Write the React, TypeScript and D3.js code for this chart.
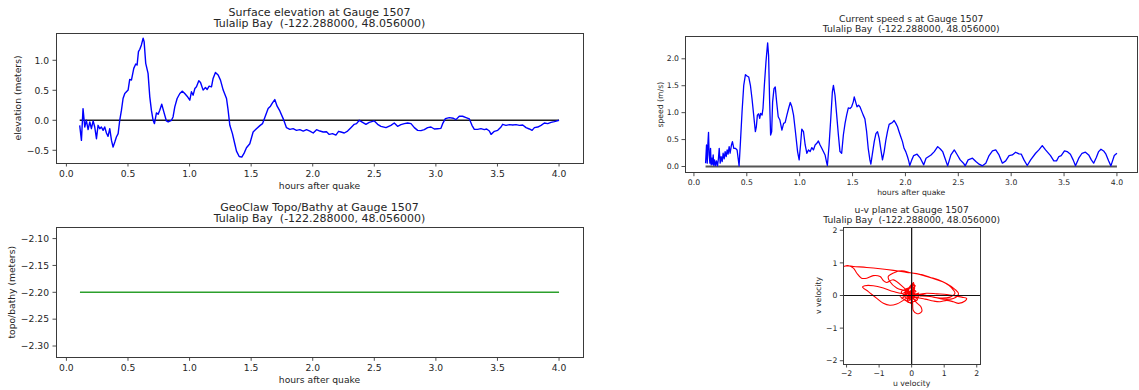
import React from "react";
import * as d3 from "d3";

// ---------- data ----------
const elevTime = [0.108,0.122,0.135,0.149,0.162,0.176,0.19,0.203,0.217,0.23,0.244,0.257,0.271,0.284,0.298,0.311,0.325,0.338,0.352,0.366,0.379,0.393,0.406,0.42,0.433,0.447,0.46,0.474,0.501,0.514,0.528,0.547,0.563,0.574,0.585,0.596,0.609,0.623,0.631,0.644,0.663,0.677,0.69,0.704,0.715,0.731,0.745,0.758,0.774,0.791,0.812,0.826,0.853,0.866,0.88,0.899,0.921,0.942,0.961,0.98,1.002,1.015,1.029,1.043,1.056,1.075,1.089,1.11,1.129,1.143,1.159,1.178,1.191,1.21,1.232,1.251,1.273,1.3,1.313,1.327,1.348,1.367,1.381,1.403,1.424,1.443,1.462,1.489,1.516,1.543,1.571,1.592,1.611,1.638,1.657,1.673,1.692,1.711,1.733,1.76,1.787,1.814,1.841,1.868,1.895,1.923,1.95,1.977,2.004,2.031,2.058,2.085,2.112,2.134,2.161,2.188,2.21,2.229,2.256,2.283,2.31,2.337,2.356,2.378,2.405,2.432,2.459,2.5,2.527,2.554,2.595,2.635,2.662,2.689,2.716,2.744,2.771,2.798,2.825,2.852,2.879,2.906,2.933,2.96,2.987,3.014,3.041,3.055,3.077,3.109,3.142,3.163,3.19,3.217,3.245,3.272,3.293,3.312,3.339,3.366,3.393,3.412,3.434,3.448,3.475,3.502,3.529,3.542,3.569,3.597,3.624,3.651,3.678,3.705,3.732,3.759,3.781,3.8,3.827,3.854,3.881,3.908,3.935,3.962,4.0];
const elevValues = [-0.084,-0.335,0.195,-0.112,0,-0.156,-0.028,-0.14,-0.011,-0.112,-0.307,-0.084,-0.14,-0.112,-0.168,-0.112,-0.212,-0.268,-0.14,-0.335,-0.447,-0.363,-0.279,-0.223,0,0.168,0.363,0.447,0.503,0.681,0.67,0.865,0.938,0.921,1.145,1.184,1.256,1.368,1.312,0.949,0.782,0.391,0.168,0,-0.056,0.123,0.101,0.168,0.268,0.14,-0.011,-0.028,0,0.056,0.223,0.363,0.447,0.486,0.447,0.402,0.335,0.475,0.419,0.53,0.558,0.659,0.631,0.503,0.547,0.514,0.57,0.558,0.698,0.798,0.754,0.67,0.503,0.363,0.168,-0.084,-0.223,-0.391,-0.514,-0.603,-0.614,-0.547,-0.458,-0.391,-0.195,-0.14,-0.089,-0.056,0.045,0.195,0.235,0.29,0.346,0.235,0.156,0.028,-0.123,-0.151,-0.14,-0.168,-0.156,-0.179,-0.156,-0.179,-0.212,-0.156,-0.179,-0.195,-0.19,-0.235,-0.223,-0.246,-0.184,-0.195,-0.212,-0.179,-0.123,-0.067,-0.056,0,-0.034,-0.067,-0.034,-0.011,-0.067,-0.101,-0.123,-0.084,-0.045,-0.101,-0.073,-0.056,-0.045,-0.056,-0.123,-0.168,-0.173,-0.156,-0.123,-0.112,-0.145,-0.14,-0.134,-0.056,0.028,0.045,0.034,0.011,0.067,0.067,0.045,0.022,-0.084,-0.151,-0.151,-0.14,-0.156,-0.145,-0.179,-0.235,-0.184,-0.168,-0.112,-0.067,-0.084,-0.073,-0.078,-0.073,-0.084,-0.078,-0.123,-0.145,-0.168,-0.123,-0.112,-0.084,-0.045,-0.056,-0.034,-0.022,0];

const speedTime = [0.11,0.119,0.126,0.132,0.138,0.144,0.151,0.157,0.163,0.17,0.176,0.182,0.188,0.195,0.204,0.213,0.223,0.232,0.239,0.248,0.257,0.267,0.276,0.286,0.295,0.305,0.314,0.323,0.333,0.342,0.355,0.364,0.377,0.392,0.408,0.418,0.427,0.44,0.455,0.471,0.487,0.502,0.518,0.534,0.549,0.565,0.581,0.59,0.6,0.612,0.622,0.631,0.644,0.653,0.666,0.681,0.697,0.706,0.716,0.725,0.735,0.744,0.757,0.769,0.782,0.797,0.813,0.832,0.848,0.863,0.879,0.895,0.911,0.926,0.942,0.958,0.98,0.995,1.008,1.02,1.036,1.052,1.068,1.083,1.099,1.115,1.13,1.146,1.162,1.177,1.193,1.209,1.224,1.24,1.256,1.262,1.278,1.294,1.309,1.319,1.334,1.35,1.366,1.381,1.397,1.413,1.429,1.444,1.46,1.476,1.491,1.507,1.516,1.529,1.542,1.557,1.57,1.586,1.601,1.617,1.633,1.648,1.664,1.673,1.686,1.705,1.721,1.736,1.752,1.768,1.783,1.799,1.815,1.83,1.846,1.862,1.878,1.893,1.909,1.925,1.94,1.956,1.972,1.987,2.003,2.019,2.031,2.041,2.06,2.078,2.11,2.141,2.173,2.195,2.242,2.273,2.305,2.33,2.352,2.374,2.399,2.43,2.462,2.487,2.518,2.549,2.565,2.593,2.634,2.666,2.697,2.728,2.76,2.791,2.823,2.854,2.885,2.917,2.948,2.98,3.011,3.042,3.074,3.096,3.121,3.152,3.184,3.231,3.262,3.294,3.325,3.372,3.403,3.429,3.451,3.473,3.504,3.529,3.56,3.586,3.608,3.639,3.67,3.702,3.733,3.758,3.78,3.805,3.827,3.849,3.874,3.896,3.921,3.943,3.975,4.0];
const speedValues = [0.062,0.4,0.062,0.431,0.634,0.215,0.062,0.338,0.031,0.154,0.043,0.215,0.018,0.123,0.018,0.105,0.012,0.154,0.338,0.062,0.185,0.092,0.246,0.142,0.277,0.185,0.308,0.228,0.369,0.246,0.4,0.462,0.338,0.338,0.308,0.154,0.012,0.462,1.015,1.508,1.705,1.68,1.662,1.508,1.262,0.954,0.646,0.738,0.954,0.978,0.892,0.985,0.954,1.077,1.508,1.938,2.295,2.062,1.2,0.585,0.646,1.2,1.446,1.477,1.2,0.923,0.862,0.677,0.8,0.818,0.954,1.077,1.188,1.108,0.954,0.677,0.277,0.123,0.4,0.695,0.646,0.4,0.246,0.308,0.277,0.351,0.308,0.4,0.431,0.474,0.4,0.338,0.277,0.215,0.062,0.018,0.4,0.892,1.385,1.508,1.323,0.954,0.585,0.277,0.246,0.585,0.8,0.954,1.089,1.077,1.108,1.2,1.292,1.2,1.108,1.138,1.108,1.028,0.954,0.88,0.646,0.338,0.123,0.043,0.215,0.462,0.609,0.646,0.523,0.308,0.123,0.277,0.492,0.646,0.782,0.8,0.818,0.855,0.8,0.738,0.646,0.554,0.462,0.338,0.277,0.185,0.105,0.018,0.123,0.203,0.228,0.154,0.031,0.154,0.215,0.277,0.369,0.326,0.277,0.154,0.012,0.215,0.308,0.228,0.123,0.062,0.012,0.123,0.154,0.092,0.043,0.012,0.062,0.203,0.289,0.308,0.215,0.062,0.105,0.203,0.215,0.265,0.234,0.228,0.123,0.018,0.123,0.246,0.308,0.388,0.308,0.203,0.105,0.105,0.185,0.203,0.289,0.277,0.228,0.123,0.012,0.154,0.246,0.265,0.215,0.123,0.062,0.166,0.277,0.32,0.289,0.228,0.105,0.012,0.203,0.246];

const topoTime = [0.11, 4.0];
const topoValues = [-2.2, -2.2];

const uVel = [0,0.05,-0.03,0.1,-0.07,0.15,-0.15,0.07,0,-0.26,0.13,-0.1,0.03,-0.36,0.21,-0.05,-0.3,0.12,-0.2,0.18,-0.12,0.06,-0.26,-0.56,-0.87,-1.18,-1.44,-1.51,-1.33,-1.08,-0.87,-0.67,-0.46,-0.26,-0.1,0.15,0.46,0.77,1.08,1.33,1.54,1.69,1.64,1.44,1.28,1.08,0.87,0.67,0.41,0.15,0,0.03,0.05,0.17,0.31,0.28,0.15,0,-0.15,-0.46,-0.67,-0.72,-0.56,-0.31,0,0.31,0.56,0.82,1.08,1.33,1.44,1.28,0.97,0.67,0.36,0.1,-0.15,-0.56,-0.77,-0.87,-0.97,-1.18,-1.38,-1.54,-1.69,-1.79,-1.95,-2.1,-2.2,-2.0,-1.79,-1.38,-0.97,-0.56,-0.15,0.15,0.46,0.77,1.03,1.23,1.33,1.18,0.87,0.56,0.26,0,0.1,-0.05,-0.1,0.07,-0.2,0.16,-0.32,0.05,-0.15,0.22,0];
const vVel = [0,0.17,-0.05,0.28,-0.08,0.02,0.07,0.36,-0.13,0.02,0.12,0.23,-0.24,-0.01,-0.05,0.12,-0.1,0.3,0.15,-0.12,-0.2,0.4,0.07,0.12,0.23,0.3,0.3,0.26,0.12,-0.08,-0.24,-0.3,-0.26,-0.15,-0.05,0.02,0.07,0.05,0.03,-0.01,-0.05,-0.09,-0.17,-0.24,-0.19,-0.15,-0.19,-0.17,-0.11,-0.07,-0.09,-0.24,-0.46,-0.56,-0.49,-0.34,-0.22,-0.03,0.12,0.23,0.43,0.58,0.69,0.76,0.69,0.64,0.56,0.48,0.36,0.19,0.05,-0.09,-0.11,-0.05,0.02,0.05,0.17,0.48,0.4,0.46,0.58,0.61,0.53,0.53,0.69,0.84,0.91,0.89,0.85,0.91,0.89,0.86,0.82,0.77,0.71,0.67,0.58,0.48,0.38,0.23,0.07,-0.05,-0.08,-0.03,-0.01,0,0.23,-0.13,0.17,0.33,0.05,-0.15,0.1,0.25,-0.18,0.08,-0.01];

const timeTicks = [0.0, 0.5, 1.0, 1.5, 2.0, 2.5, 3.0, 3.5, 4.0];
const elevTicks = [-0.5, 0.0, 0.5, 1.0];
const speedTicks = [0.0, 0.5, 1.0, 1.5, 2.0];
const topoTicks = [-2.30, -2.25, -2.20, -2.15, -2.10];
const uvTicks = [-2, -1, 0, 1, 2];

const gaugeTitle = "Tulalip Bay  (-122.288000, 48.056000)";

// ---------- helpers ----------
const FONT = "DejaVu Sans, Verdana, sans-serif";
const TXT = "#262626";
const SPINE = "#3a3a3a";
const minus = (s: string) => s.replace(/-/g, "\u2212");

type PanelProps = {
  id: string;
  left: number; top: number; width: number; height: number;
  xDomain: [number, number]; yDomain: [number, number];
  xTicks: number[]; yTicks: number[];
  xFmt: (v: number) => string; yFmt: (v: number) => string;
  title1: string; title2: string;
  titleSize: number; tickSize: number;
  t1Off: number; t2Off: number;
  xLabel: string; yLabel: string;
  xLabelOff: number; yLabelOff: number; yTickOff: number; xTickOff: number;
  draw: (x: d3.ScaleLinear<number, number>, y: d3.ScaleLinear<number, number>) => React.ReactNode;
};

function Panel(p: PanelProps) {
  const x = d3.scaleLinear().domain(p.xDomain).range([p.left, p.left + p.width]);
  const y = d3.scaleLinear().domain(p.yDomain).range([p.top + p.height, p.top]);
  const bottom = p.top + p.height;
  const cx = p.left + p.width / 2;
  const cy = p.top + p.height / 2;
  return (
    <g fontFamily={FONT}>
      <defs>
        <clipPath id={p.id}>
          <rect x={p.left} y={p.top} width={p.width} height={p.height} />
        </clipPath>
      </defs>
      <g clipPath={`url(#${p.id})`}>{p.draw(x, y)}</g>
      <rect x={p.left} y={p.top} width={p.width} height={p.height} fill="none" stroke={SPINE} strokeWidth={1} shapeRendering="crispEdges" />
      {p.xTicks.map((t) => (
        <g key={"xt" + t}>
          <line x1={x(t)} x2={x(t)} y1={bottom} y2={bottom + 3.5} stroke={SPINE} strokeWidth={0.9} />
          <text x={x(t)} y={bottom + p.xTickOff} fontSize={p.tickSize} textAnchor="middle" fill={TXT}>{p.xFmt(t)}</text>
        </g>
      ))}
      {p.yTicks.map((t) => (
        <g key={"yt" + t}>
          <line x1={p.left - 3.5} x2={p.left} y1={y(t)} y2={y(t)} stroke={SPINE} strokeWidth={0.9} />
          <text x={p.left - p.yTickOff} y={y(t)} dy="0.35em" fontSize={p.tickSize} textAnchor="end" fill={TXT}>{p.yFmt(t)}</text>
        </g>
      ))}
      <text x={cx} y={bottom + p.xLabelOff} fontSize={p.tickSize} textAnchor="middle" fill={TXT}>{p.xLabel}</text>
      <text transform={`translate(${p.left - p.yLabelOff},${cy}) rotate(-90)`} dy="0.35em" fontSize={p.tickSize} textAnchor="middle" fill={TXT}>{p.yLabel}</text>
      <text x={cx} y={p.top - p.t1Off} fontSize={p.titleSize} textAnchor="middle" fill={TXT} style={{ whiteSpace: "pre" }}>{p.title1}</text>
      <text x={cx} y={p.top - p.t2Off} fontSize={p.titleSize} textAnchor="middle" fill={TXT} style={{ whiteSpace: "pre" }}>{p.title2}</text>
    </g>
  );
}

const timeDomain: [number, number] = [-0.0845, 4.1945];
const f1 = (v: number) => minus(d3.format(".1f")(v));
const f2 = (v: number) => minus(d3.format(".2f")(v));
const f0 = (v: number) => minus(d3.format("d")(v));

export default function App() {
  const tMin = d3.min(elevTime) as number;
  const tMax = d3.max(elevTime) as number;
  const sMin = d3.min(speedTime) as number;
  const sMax = d3.max(speedTime) as number;
  return (
    <svg width={1139} height={390} style={{ display: "block", position: "absolute", left: 0, top: 0, background: "#fff" }}>
      <Panel
        id="c1" left={56} top={33} width={527} height={130}
        xDomain={timeDomain} yDomain={[-0.712, 1.455]}
        xTicks={timeTicks} yTicks={elevTicks} xFmt={f1} yFmt={f1}
        title1="Surface elevation at Gauge 1507" title2={gaugeTitle}
        titleSize={11} tickSize={9.2} t1Off={16.7} t2Off={5.6}
        xLabel="hours after quake" yLabel="elevation (meters)"
        xLabelOff={26} yLabelOff={38.7} yTickOff={7} xTickOff={13.6}
        draw={(x, y) => {
          const line = d3.line<number>().x((_, i) => x(elevTime[i])).y((d) => y(d));
          return (
            <>
              <line x1={x(tMin)} x2={x(tMax)} y1={y(0)} y2={y(0)} stroke="#1a1a1a" strokeWidth={1.6} />
              <path d={line(elevValues) as string} fill="none" stroke="#0000ff" strokeWidth={1.4} strokeLinejoin="round" />
            </>
          );
        }}
      />
      <Panel
        id="c2" left={685} top={36.7} width={452.5} height={136}
        xDomain={timeDomain} yDomain={[-0.115, 2.41]}
        xTicks={timeTicks} yTicks={speedTicks} xFmt={f1} yFmt={f1}
        title1="Current speed s at Gauge 1507" title2={gaugeTitle}
        titleSize={9.2} tickSize={7.7} t1Off={15.2} t2Off={5.2}
        xLabel="hours after quake" yLabel="speed (m/s)"
        xLabelOff={22.7} yLabelOff={25} yTickOff={6} xTickOff={12.3}
        draw={(x, y) => {
          const line = d3.line<number>().x((_, i) => x(speedTime[i])).y((d) => y(d));
          return (
            <>
              <line x1={x(sMin)} x2={x(sMax)} y1={y(0)} y2={y(0)} stroke="#555" strokeWidth={2} />
              <path d={line(speedValues) as string} fill="none" stroke="#0000ff" strokeWidth={1.3} strokeLinejoin="round" />
            </>
          );
        }}
      />
      <Panel
        id="c3" left={56} top={227.3} width={527} height={130}
        xDomain={timeDomain} yDomain={[-2.321, -2.079]}
        xTicks={timeTicks} yTicks={topoTicks} xFmt={f1} yFmt={f2}
        title1="GeoClaw Topo/Bathy at Gauge 1507" title2={gaugeTitle}
        titleSize={11} tickSize={9.2} t1Off={16.7} t2Off={5.6}
        xLabel="hours after quake" yLabel="topo/bathy (meters)"
        xLabelOff={26} yLabelOff={44.3} yTickOff={7} xTickOff={13.6}
        draw={(x, y) => {
          const line = d3.line<number>().x((_, i) => x(topoTime[i])).y((d) => y(d));
          return <path d={line(topoValues) as string} fill="none" stroke="#2ca02c" strokeWidth={1.6} />;
        }}
      />
      <Panel
        id="c4" left={843.3} top={227} width={136.7} height={137}
        xDomain={[-2.1, 2.1]} yDomain={[-2.1, 2.1]}
        xTicks={uvTicks} yTicks={uvTicks} xFmt={f0} yFmt={f0}
        title1="u-v plane at Gauge 1507" title2={gaugeTitle}
        titleSize={9.2} tickSize={7.7} t1Off={13.7} t2Off={4.4}
        xLabel="u velocity" yLabel="v velocity"
        xLabelOff={22} yLabelOff={25} yTickOff={6} xTickOff={12.3}
        draw={(x, y) => {
          const line = d3.line<number>().x((_, i) => x(uVel[i])).y((d) => y(d)).curve(d3.curveCatmullRom);
          return (
            <>
              <path d={line(vVel) as string} fill="none" stroke="#ff0000" strokeWidth={1.1} strokeLinejoin="round" />
              <line x1={x(-2.1)} x2={x(2.1)} y1={y(0)} y2={y(0)} stroke="#111" strokeWidth={1.2} />
              <line x1={x(0)} x2={x(0)} y1={y(-2.1)} y2={y(2.1)} stroke="#111" strokeWidth={1.2} />
            </>
          );
        }}
      />
    </svg>
  );
}
